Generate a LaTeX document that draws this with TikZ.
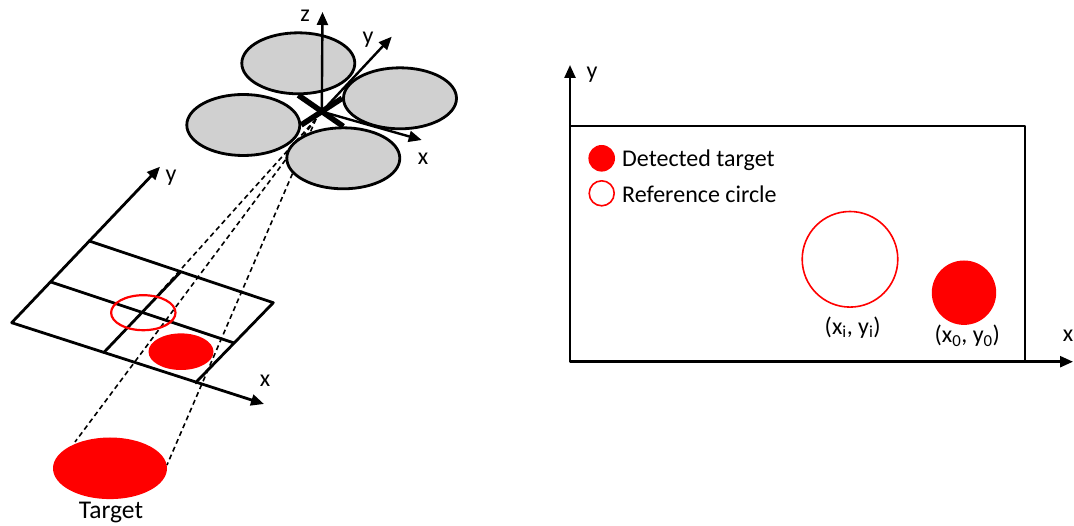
\documentclass[tikz,border=0pt]{standalone}
\usepackage{fontspec}
\setmainfont{Carlito}
\usetikzlibrary{arrows.meta,shapes.geometric}
\definecolor{rotorgray}{RGB}{208,208,208}
\definecolor{tred}{RGB}{255,0,0}
\begin{document}
\begin{tikzpicture}[x=1pt,y=-1pt,line join=round]
\tikzset{
  tip/.style={-{Triangle[length=13pt,width=11pt]}},
  axisline/.style={line width=2.4pt},
  gridline/.style={line width=2.8pt},
  rotor/.style={ellipse,draw=black,line width=2.8pt,fill=rotorgray,minimum width=113pt,minimum height=61pt,inner sep=0pt},
  arm/.style={line width=5.5pt},
  ray/.style={line width=1.6pt,dash pattern=on 5pt off 3.5pt},
  lbl/.style={font=\fontsize{24}{28}\selectfont,inner sep=0pt},
}
\useasboundingbox (0,0) rectangle (1074,526);

% ---------- rays from the camera ----------
\coordinate (cam) at (316,119);
\node[ellipse,fill=tred,minimum width=114pt,minimum height=61.6pt,inner sep=0pt] (target) at (110,468.3) {};
\coordinate (tl) at (75,442);
\coordinate (tr) at (167,465);
\coordinate (gc) at (142.1,312.4);
\draw[ray] (cam) -- (tl);
\draw[ray] (cam) -- (gc);
\draw[ray] (cam) -- (tr);
\node[lbl,font=\fontsize{25.5}{29}\selectfont] (targetlbl) at (111,513) {Target};

% ---------- image plane (grid) ----------
\coordinate (g00) at (11.7,322.7);
\coordinate (g10) at (195,383.3);
\coordinate (g11) at (273.3,302.7);
\coordinate (g01) at (88.3,240.7);
\coordinate (gy) at (160,166.7);
\coordinate (gx) at (264,404);
\draw[gridline] (g01) -- (g11) -- (g10);
\draw[gridline] (50,281.7) -- (234.15,343);
\draw[gridline] (180.8,271.7) -- (103.35,353);
\draw[gridline,{Triangle[length=13pt,width=11pt]}-{Triangle[length=13pt,width=11pt]}] (gy) -- (g00) -- (gx);
\draw[tred,line width=2.2pt] (143.3,312.7) ellipse [x radius=32.2pt,y radius=17.5pt];
\fill[tred] (181,351.7) ellipse [x radius=32.5pt,y radius=18.3pt];
\node[lbl] (gylbl) at (171,178) {y};
\node[lbl] (gxlbl) at (265,381) {x};

% ---------- drone ----------
\node[rotor] (rtop) at (298.3,63.3) {};
\node[rotor] (rleft) at (243.3,125) {};
\node[rotor] (rright) at (400,98.3) {};
\node[rotor] (rbot) at (343.3,158.3) {};
\draw[arm] (rtop.south) -- (rbot.north);
\draw[arm] (rleft.east) -- (rright.west);
\coordinate (o) at (321.8,111.6);
\coordinate (dz) at (322.5,12);
\coordinate (dy) at (391.7,36.7);
\coordinate (dx) at (421.7,140);
\draw[axisline,tip] (o) -- (dz);
\draw[axisline,tip] (o) -- (dy);
\draw[axisline,tip] (o) -- (dx);
\node[lbl] (dzlbl) at (305,16) {z};
\node[lbl] (dylbl) at (368,40) {y};
\node[lbl] (dxlbl) at (423,159) {x};

% ---------- right panel ----------
\coordinate (ro) at (570,361.7);
\coordinate (ry) at (570,65);
\coordinate (rx) at (1073,361.7);
\draw[axisline,{Triangle[length=13pt,width=11pt]}-{Triangle[length=13pt,width=11pt]}] (ry) -- (ro) -- (rx);
\draw[axisline] (570,126) -- (1025,126) -- (1025,361.7);
\node[lbl] (rylbl) at (592,75) {y};
\node[lbl] (rxlbl) at (1068,336) {x};

\node[circle,fill=tred,minimum size=26.6pt,inner sep=0pt] (legdet) at (601.7,158.3) {};
\node[lbl,anchor=west] (legdettxt) at (622,160.5) {Detected target};
\node[circle,draw=tred,line width=1.6pt,minimum size=25pt,inner sep=0pt] (legref) at (601.7,193.3) {};
\node[lbl,anchor=west] (legreftxt) at (622,194.5) {Reference circle};

\node[circle,draw=tred,line width=1.6pt,minimum size=95.6pt,inner sep=0pt] (refc) at (850,259.3) {};
\node[circle,fill=tred,minimum size=64.4pt,inner sep=0pt] (detc) at (964,292.7) {};
\node[lbl] (refclbl) at (852.7,327.3) {(x\textsubscript{i}, y\textsubscript{i})};
\node[lbl] (detclbl) at (967.3,336) {(x\textsubscript{0}, y\textsubscript{0})};
\end{tikzpicture}
\end{document}
